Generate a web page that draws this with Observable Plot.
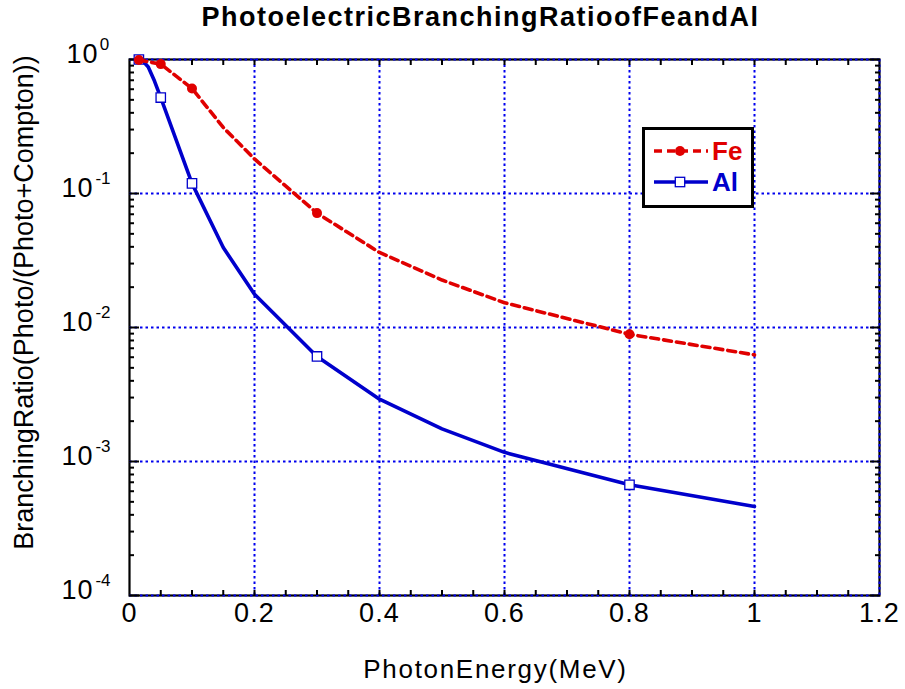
<!DOCTYPE html>
<html><head><meta charset="utf-8">
<script src="https://cdn.jsdelivr.net/npm/d3@7"></script>
<script src="https://cdn.jsdelivr.net/npm/@observablehq/plot@0.6"></script>
<style>
body{margin:0;background:#fff;}
#wrap{position:relative;width:905px;height:689px;font-family:"Liberation Sans",Arial,sans-serif;}
#legend{position:absolute;left:642px;top:127px;width:112px;height:81px;box-sizing:border-box;border:3px solid #000;background:#fff;}
#legend svg{display:block;}
</style></head><body><div id="wrap"></div>
<script>
const energyFe = [0.015, 0.05, 0.1, 0.15, 0.2, 0.3, 0.4, 0.5, 0.6, 0.8, 1.0];
const ratioFe  = [0.99, 0.924, 0.608, 0.311, 0.181, 0.0714, 0.0363, 0.0226, 0.0153, 0.0089, 0.00625];
const energyAl = [0.015, 0.02, 0.03, 0.04, 0.05, 0.1, 0.15, 0.2, 0.3, 0.4, 0.5, 0.6, 0.8, 1.0];
const ratioAl  = [1.0, 0.99, 0.88, 0.69, 0.52, 0.119, 0.0395, 0.0177, 0.00608, 0.00292, 0.00175, 0.00117, 0.00067, 0.000461];
const markerEnergies = [0.015, 0.05, 0.1, 0.3, 0.8];
const xTicks = [0, 0.2, 0.4, 0.6, 0.8, 1, 1.2];
const xTickLabels = ["0", "0.2", "0.4", "0.6", "0.8", "1", "1.2"];
const yDecades = [1e0, 1e-1, 1e-2, 1e-3, 1e-4];
const yExponents = ["0", "-1", "-2", "-3", "-4"];
const seriesNames = ["Fe", "Al"];
const titleText = "PhotoelectricBranchingRatioofFeandAl";
const xLabel = "PhotonEnergy(MeV)";
const yLabel = "BranchingRatio(Photo/(Photo+Compton))";

const RED = "#e00000", BLUE = "#0000cc", GRID = "#0000ee";
const fe = energyFe.map((e, i) => ({e, r: ratioFe[i]}));
const al = energyAl.map((e, i) => ({e, r: ratioAl[i]}));
const xMinor = d3.range(1, 24).map(i => i * 0.05);
const yMinor = [];
for (let k = -4; k < 0; k++) for (let m = 2; m <= 9; m++) yMinor.push(m * Math.pow(10, k));
const yLab = yDecades.map((v, i) => ({v, ex: yExponents[i]}));
const xLab = xTicks.map((v, i) => ({v, t: xTickLabels[i]}));
const font = "Liberation Sans, Arial, sans-serif";

const chart = Plot.plot({
  width: 905, height: 689,
  marginLeft: 129, marginRight: 26, marginTop: 59, marginBottom: 94,
  style: {background: "#fff", fontFamily: font, overflow: "visible"},
  x: {domain: [0, 1.2]},
  y: {type: "log", domain: [1e-4, 1]},
  marks: [
    Plot.frame({stroke: "#000", strokeWidth: 2.2}),
    Plot.gridX(xTicks.slice(1), {stroke: GRID, strokeOpacity: 1, strokeWidth: 2, strokeDasharray: "2.5,3"}),
    Plot.gridY(yDecades, {stroke: GRID, strokeOpacity: 1, strokeWidth: 2, strokeDasharray: "2.5,3"}),
    Plot.axisX(xMinor, {anchor: "bottom", tickSize: -5, fill: "none", stroke: "#000", strokeWidth: 2}),
    Plot.axisX(xMinor, {anchor: "top", tickSize: -5, fill: "none", stroke: "#000", strokeWidth: 2}),
    Plot.axisY(yMinor, {anchor: "left", tickSize: -5, fill: "none", stroke: "#000", strokeWidth: 2}),
    Plot.axisY(yMinor, {anchor: "right", tickSize: -5, fill: "none", stroke: "#000", strokeWidth: 2}),
    Plot.axisY(yDecades, {anchor: "left", tickSize: -10, fill: "none", stroke: "#000", strokeWidth: 2}),
    Plot.axisY(yDecades, {anchor: "right", tickSize: -10, fill: "none", stroke: "#000", strokeWidth: 2}),
    Plot.line(al, {x: "e", y: "r", stroke: BLUE, strokeWidth: 3.6}),
    Plot.dot(al.filter(d => markerEnergies.includes(d.e)), {x: "e", y: "r", symbol: "square", r: 5.3, stroke: BLUE, strokeWidth: 1.3, fill: "white"}),
    Plot.line(fe, {x: "e", y: "r", stroke: RED, strokeWidth: 3.6, strokeDasharray: "8,5"}),
    Plot.dot(fe.filter(d => markerEnergies.includes(d.e)), {x: "e", y: "r", r: 5, fill: RED}),
    // x tick labels
    Plot.text(xLab, {x: "v", frameAnchor: "bottom", dy: 18, text: "t", textAnchor: "middle", lineAnchor: "middle", fontSize: 27, fill: "#000"}),
    // y tick labels: base "10" and exponent
    Plot.text(yLab.filter(d => d.ex === "0"), {y: "v", frameAnchor: "left", dx: -31, dy: -5, text: () => "10", textAnchor: "end", lineAnchor: "middle", fontSize: 27, fill: "#000"}),
    Plot.text(yLab.filter(d => d.ex !== "0"), {y: "v", frameAnchor: "left", dx: -36, dy: -5, text: () => "10", textAnchor: "end", lineAnchor: "middle", fontSize: 27, fill: "#000"}),
    Plot.text(yLab, {y: "v", frameAnchor: "left", dx: -19, dy: -15, text: "ex", textAnchor: "end", lineAnchor: "middle", fontSize: 17, fill: "#000"}),
    // title and axis labels
    Plot.text([titleText], {frameAnchor: "top", dx: -24, dy: -42, text: d => d, textAnchor: "middle", lineAnchor: "middle", fontSize: 27, fontWeight: "bold", fill: "#000"}),
    Plot.text([xLabel], {frameAnchor: "bottom", dx: -9, dy: 74, text: d => d, textAnchor: "middle", lineAnchor: "middle", fontSize: 26, fill: "#000"}),
    Plot.text([yLabel], {frameAnchor: "left", dx: -105, dy: -25, rotate: -90, text: d => d, textAnchor: "middle", lineAnchor: "middle", fontSize: 27, fill: "#000"})
  ]
});
// widen glyph spacing to match the reference's wide lettering
d3.select(chart).selectAll("text").each(function () {
  const t = this.textContent;
  let ls = null;
  if (t === titleText) ls = "1.5px";
  else if (t === xLabel) ls = "1.7px";
  else if (xTickLabels.includes(t)) ls = "1.2px";
  else if (t === "10") ls = "1px";
  if (ls) this.style.letterSpacing = ls;
});
const wrap = document.getElementById("wrap");
wrap.appendChild(chart);

// legend
const lg = document.createElement("div");
lg.id = "legend";
const svg = d3.create("svg").attr("width", 106).attr("height", 75);
const rows = [
  {name: seriesNames[0], color: RED, y: 21, dash: "8,5", sym: "dot"},
  {name: seriesNames[1], color: BLUE, y: 52, dash: null, sym: "square"}
];
for (const r of rows) {
  svg.append("line").attr("x1", 9).attr("x2", 63).attr("y1", r.y).attr("y2", r.y)
    .attr("stroke", r.color).attr("stroke-width", 3.6).attr("stroke-dasharray", r.dash);
  if (r.sym === "dot") svg.append("circle").attr("cx", 35).attr("cy", r.y).attr("r", 5).attr("fill", r.color);
  else svg.append("rect").attr("x", 30.3).attr("y", r.y - 4.7).attr("width", 9.4).attr("height", 9.4).attr("fill", "white").attr("stroke", r.color).attr("stroke-width", 1.3);
  svg.append("text").attr("x", 67).attr("y", r.y).attr("dy", "0.36em").attr("fill", r.color)
    .attr("font-size", 26).attr("font-weight", "bold").attr("font-family", font).text(r.name);
}
lg.appendChild(svg.node());
wrap.appendChild(lg);
</script>
</body></html>
